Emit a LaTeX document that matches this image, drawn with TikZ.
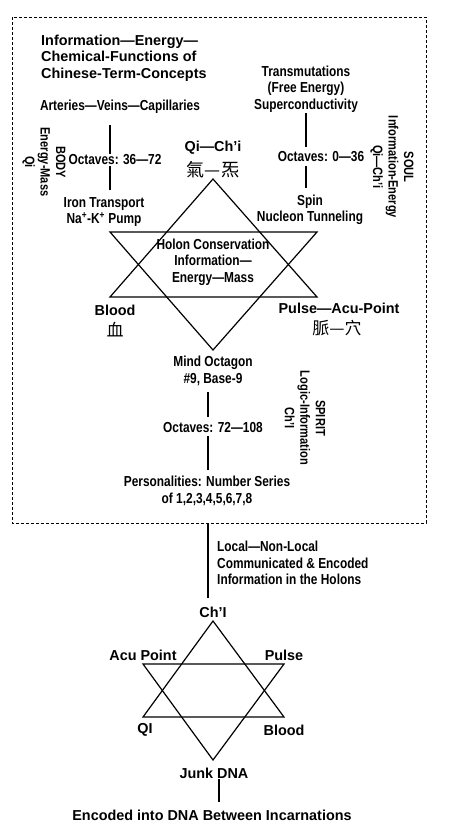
\documentclass[tikz,border=0pt]{standalone}
\usepackage{fontspec}
\setmainfont{Liberation Sans}
\newfontfamily\narrowf{Liberation Sans}[FakeStretch=0.82]
\newfontfamily\cjk{Noto Sans CJK TC}
\begin{document}
\begin{tikzpicture}[x=1pt,y=-1pt,
  lab/.style={font=\narrowf\bfseries\fontsize{14.5}{16.5}\selectfont, align=center, inner sep=1pt},
  wlab/.style={font=\bfseries\fontsize{14.4}{16.5}\selectfont, align=center, inner sep=1pt},
  rlab/.style={font=\narrowf\bfseries\fontsize{13.5}{15.5}\selectfont, align=center, rotate=-90, inner sep=1pt},
  zh/.style={font=\cjk\fontsize{17}{19}\selectfont, inner sep=1pt},
  conn/.style={line width=1.4pt},
  star/.style={line width=1.2pt, line join=miter},
  dashbox/.style={dash pattern=on 3pt off 2pt, line width=0.9pt}]
\fill[white] (0,0) rectangle (450,833);
\useasboundingbox (0,0) rectangle (450,833);

% dashed frame
\draw[dashbox] (12,17) rectangle (426,523);
\coordinate (boxbot) at (208,523);

% title
\node[wlab, align=left, anchor=west] (title) at (40,58) {Information—Energy—\\Chemical-Functions of\\Chinese-Term-Concepts};

% left column
\coordinate (xA) at (110,0);
\node[lab] (art) at (120,107) {Arteries—Veins—Capillaries};
\node[lab] (oct1) at (115,160) {Octaves: 36—72};
\node[lab] (iron) at (104,212) {Iron Transport\\Na\textsuperscript{+}-K\textsuperscript{+} Pump};
\draw[conn] ([yshift=-10pt]art.south -| xA) -- (oct1.north -| xA);
\draw[conn] (oct1.south -| xA) -- ([yshift=6pt]iron.north -| xA);
\node[rlab] (body) at (44,162) {BODY\\Energy-Mass\\Qi};

% right column
\coordinate (xB) at (306,0);
\node[lab] (trans) at (306,89) {Transmutations\\(Free Energy)\\Superconductivity};
\node[lab] (oct2) at (321,157) {Octaves: 0—36};
\node[lab] (spin) at (310,210) {Spin\\Nucleon Tunneling};
\draw[conn] (trans.south -| xB) -- ([yshift=4pt]oct2.north -| xB);
\draw[conn] ([yshift=-3pt]oct2.south -| xB) -- ([yshift=6pt]spin.north -| xB);
\node[rlab] (soul) at (392,167) {SOUL\\Information-Energy\\Qi—Ch’i};

% upper star
\node[wlab] (qichi) at (213,148) {Qi—Ch’i};
\node[zh, font=\cjk\fontsize{18}{20}\selectfont] (qichizh) at (213,170) {氣—炁};
\coordinate (ua) at (213,179);
\coordinate (ul) at (110,297);
\coordinate (ur) at (317,297);
\coordinate (dl) at (110,232);
\coordinate (dr) at (317,232);
\coordinate (da) at (213,350);
\draw[star] (ua) -- (ul) -- (ur) -- cycle;
\draw[star] (dl) -- (dr) -- (da) -- cycle;
\node[lab] (holon) at (213,262) {Holon Conservation\\Information—\\Energy—Mass};
\node[wlab] (blood) at (115,310) {Blood};
\node[zh] (bloodzh) at (115,330) {血};
\node[wlab] (pulse) at (339,308) {Pulse—Acu-Point};
\node[zh] (pulsezh) at (337,328) {脈—穴};

% lower column inside frame
\coordinate (xC) at (208,0);
\node[lab] (mind) at (213,371) {Mind Octagon\\\#9, Base-9};
\node[lab] (oct3) at (213,428) {Octaves: 72—108};
\node[lab] (pers) at (207,491) {Personalities: Number Series\\of 1,2,3,4,5,6,7,8};
\draw[conn] ([yshift=-5pt]mind.south -| xC) -- ([yshift=5pt]oct3.north -| xC);
\draw[conn] ([yshift=-2pt]oct3.south -| xC) -- ([yshift=5pt]pers.north -| xC);
\node[rlab] (spirit) at (305,418) {SPIRIT\\Logic-Information\\Ch’I};

% below frame
\node[lab, align=left, anchor=west] (local) at (216,563) {Local—Non-Local\\Communicated \& Encoded\\Information in the Holons};
\node[wlab] (chi) at (213,612) {Ch’I};
\draw[conn] (boxbot) -- ([yshift=8pt]chi.north -| boxbot);

% lower star
\coordinate (la) at (213,621);
\coordinate (ll) at (143,717);
\coordinate (lr) at (284,717);
\coordinate (ldl) at (143,664);
\coordinate (ldr) at (284,664);
\coordinate (lda) at (213,760);
\draw[star] (la) -- (ll) -- (lr) -- cycle;
\draw[star] (ldl) -- (ldr) -- (lda) -- cycle;
\node[wlab] (acu) at (143,655) {Acu Point};
\node[wlab] (pulse2) at (284,655) {Pulse};
\node[wlab] (qi2) at (145,730) {QI};
\node[wlab] (blood2) at (284,730) {Blood};
\node[wlab] (junk) at (214,773) {Junk DNA};
\node[wlab] (enc) at (212,815) {Encoded into DNA Between Incarnations};
\coordinate (xE) at (219,0);
\draw[conn] (junk.south -| xE) -- ([yshift=7pt]enc.north -| xE);
\end{tikzpicture}
\end{document}
